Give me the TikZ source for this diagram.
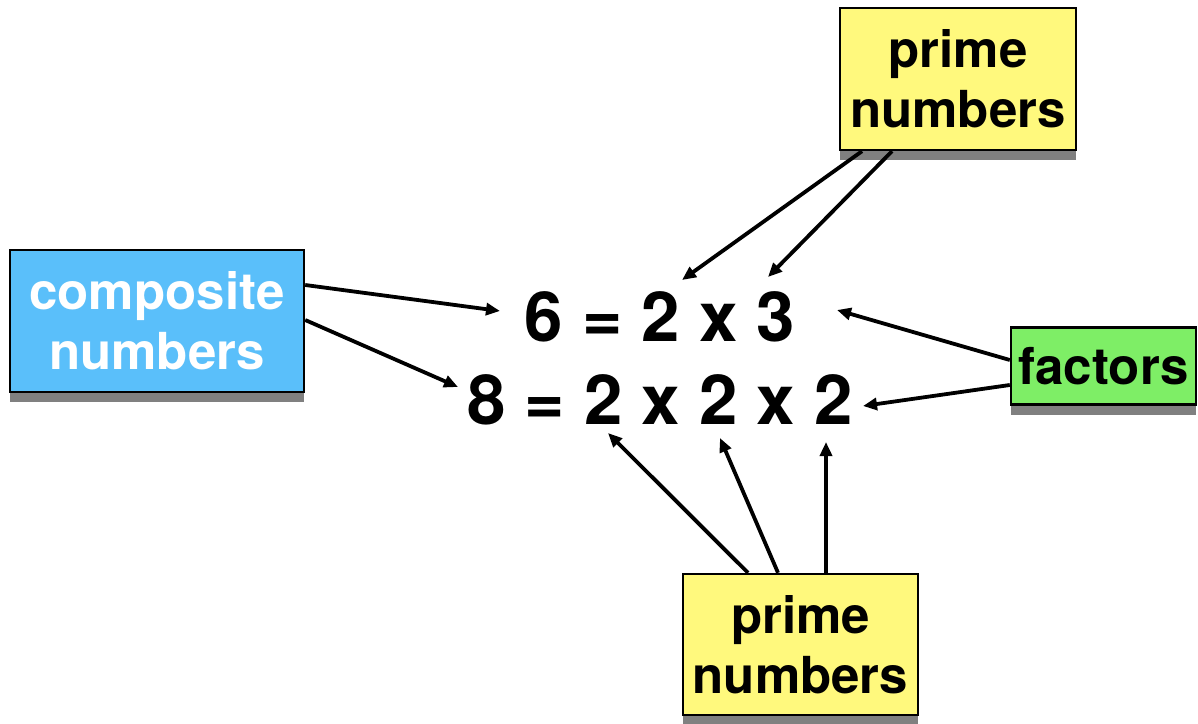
\documentclass[tikz,border=0pt]{standalone}
\usepackage{fontspec}
\setmainfont{TeX Gyre Heros}
\usetikzlibrary{arrows.meta,calc,shadows}
\definecolor{boxblue}{RGB}{90,191,250}
\definecolor{boxyellow}{RGB}{255,249,125}
\definecolor{boxgreen}{RGB}{126,238,102}
\definecolor{shadowgray}{RGB}{128,128,128}
\tikzset{
  labelbox/.style={draw=black, line width=1.2pt, inner sep=0pt, align=center,
    font=\fontsize{25.5}{30}\selectfont\bfseries,
    drop shadow={shadow xshift=0pt, shadow yshift=-5pt, opacity=1, fill=shadowgray}},
  eqtext/.style={inner sep=0pt, anchor=base, font=\fontsize{34.5}{40}\selectfont\bfseries},
  arr/.style={line width=1.9pt, -{Triangle[length=7pt,width=6pt]}}
}
\begin{document}
\begin{tikzpicture}[x=0.5pt,y=-0.5pt]
\useasboundingbox (0,0) rectangle (1198,723);
% boxes
\node[labelbox, fill=boxblue, text=white, minimum width=147pt, minimum height=71pt] (comp) at (157,321) {composite\\numbers};
\node[labelbox, fill=boxyellow, minimum width=118pt, minimum height=71pt] (topP) at (958,79) {prime\\numbers};
\node[labelbox, fill=boxgreen, minimum width=92.5pt, minimum height=38.5pt] (fac) at (1103.5,366) {factors};
\node[labelbox, fill=boxyellow, minimum width=117.5pt, minimum height=70.5pt] (botP) at (800.5,644.5) {prime\\numbers};
% equations
\node[eqtext] (eqA) at (660,341) {6 = 2 x 3};
\node[eqtext] (eqB) at (660,424) {8 = 2 x 2 x 2};
% arrow targets
\coordinate (t1) at (500,311);
\coordinate (t2) at (458,387);
\coordinate (t3) at (682,280);
\coordinate (t4) at (768,277);
\coordinate (t5) at (837,310);
\coordinate (t6) at (863,406);
\coordinate (t7) at (608,433);
\coordinate (t8) at (720,438);
\coordinate (t9) at (826,442);
% arrows
\draw[arr] ($(comp.east)+(0,-36)$) -- (t1);
\draw[arr] ($(comp.east)+(0,-1)$) -- (t2);
\draw[arr] ($(topP.south)+(-96,0)$) -- (t3);
\draw[arr] ($(topP.south)+(-66,0)$) -- (t4);
\draw[arr] ($(fac.west)+(0,-6)$) -- (t5);
\draw[arr] ($(fac.west)+(0,19)$) -- (t6);
\draw[arr] ($(botP.north)+(-52.5,0)$) -- (t7);
\draw[arr] ($(botP.north)+(-22.5,0)$) -- (t8);
\draw[arr] ($(botP.north)+(25.5,0)$) -- (t9);
\end{tikzpicture}
\end{document}
